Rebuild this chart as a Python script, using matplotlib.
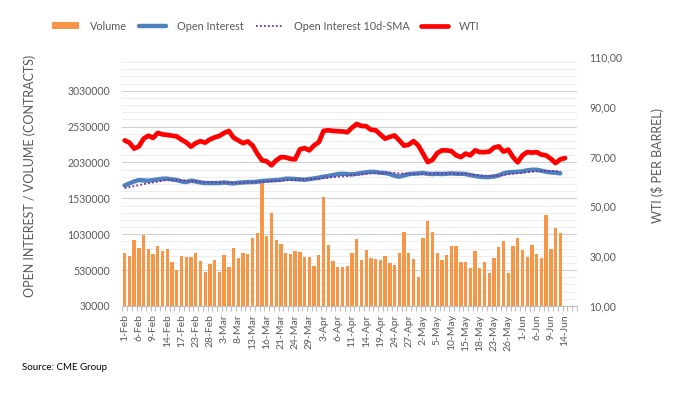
import matplotlib
matplotlib.use("Agg")
import matplotlib.pyplot as plt
import numpy as np
import pandas as pd
from matplotlib.ticker import FixedLocator, FuncFormatter

plt.rcParams['font.family'] = ['Lato', 'DejaVu Sans']

# Trading days (CME): 1-Feb-2023 .. 16-Jun-2023, excluding 20-Feb and 29-May
dates = pd.bdate_range('2023-02-01', '2023-06-16', freq='C',
                       holidays=['2023-02-20', '2023-05-29'])
cat_labels = [f"{d.day}-{d.strftime('%b')}" for d in dates]

# Volume (thousand contracts), 1-Feb .. 13-Jun
volume_k = [770, 724, 952, 840, 1021, 826, 756, 868, 798, 826, 644, 533, 724, 714, 714, 770,
            658, 505, 617, 672, 505, 742, 579, 840,
            705, 770, 756, 980, 1049, 1738, 1008, 1329, 952, 896, 770, 756, 798, 784, 714, 714,
            589, 742, 1552, 882, 658, 575, 575, 589,
            770, 966, 672, 812, 700, 686, 672, 728, 630, 603, 770, 1063, 770, 686, 435, 980,
            1217, 1063, 770, 672, 742, 868, 868, 644,
            644, 561, 798, 561, 644, 491, 700, 854, 938, 491, 868, 980, 812, 714, 882, 756,
            700, 1301, 826, 1119, 1049]

# Open interest (thousand contracts), 1-Feb .. 13-Jun
open_interest_k = [1710, 1738, 1766, 1785, 1780, 1776, 1785, 1794, 1804, 1804, 1794, 1785, 1766, 1757,
                   1776, 1766, 1752, 1743, 1743, 1743, 1743, 1752, 1743, 1738,
                   1748, 1752, 1757, 1757, 1762, 1771, 1776, 1780, 1785, 1790, 1804, 1804, 1799, 1794,
                   1790, 1799, 1808, 1818, 1832, 1841, 1855, 1869, 1873, 1869,
                   1864, 1873, 1883, 1892, 1901, 1897, 1887, 1883, 1869, 1845, 1832, 1850, 1869, 1873,
                   1878, 1883, 1873, 1869, 1873, 1869, 1873, 1878, 1873, 1873,
                   1869, 1855, 1841, 1832, 1827, 1827, 1836, 1850, 1878, 1892, 1897, 1901, 1906, 1920,
                   1929, 1929, 1915, 1901, 1892, 1887, 1878]

# Open interest 10-day SMA (thousand contracts), 1-Feb .. 13-Jun
oi_sma_k = [1673, 1687, 1701, 1715, 1729, 1741, 1752, 1764, 1776, 1785, 1785, 1785, 1780, 1776,
            1771, 1766, 1762, 1757, 1757, 1757, 1755, 1752, 1750, 1748,
            1745, 1748, 1752, 1755, 1759, 1764, 1769, 1771, 1773, 1776, 1780, 1783, 1787, 1790,
            1792, 1797, 1799, 1806, 1813, 1820, 1825, 1832, 1836, 1841,
            1855, 1859, 1864, 1871, 1878, 1880, 1883, 1885, 1887, 1885, 1878, 1876, 1873, 1871,
            1869, 1871, 1873, 1876, 1878, 1878, 1878, 1878, 1878,
            1871, 1869, 1862, 1855, 1848, 1841, 1841, 1843, 1848, 1855, 1864, 1873, 1880, 1887,
            1894, 1901, 1906, 1911, 1911, 1911, 1908, 1906]

# WTI ($ per barrel), 1-Feb .. 14-Jun
wti = [76.5, 75.6, 73.2, 74.1, 77.2, 78.4, 77.5, 79.5, 78.9, 78.7, 78.4, 78.1, 76.8, 75.7,
       74.0, 75.4, 76.2, 75.6, 76.9, 77.7, 78.3, 79.5, 80.3, 77.6,
       76.5, 75.4, 76.1, 74.5, 71.2, 68.5, 68.1, 66.5, 68.5, 69.8, 69.7, 69.1, 68.9, 72.9,
       73.4, 72.5, 74.5, 75.8, 80.3, 80.6, 80.3, 80.2, 80.1, 79.8,
       81.6, 83.1, 82.3, 82.2, 80.8, 80.6, 78.9, 77.2, 77.9, 78.5, 76.5, 74.4, 74.8, 76.2,
       74.5, 71.2, 67.8, 68.7, 71.4, 72.5, 72.5, 72.2, 70.5,
       69.8, 71.2, 70.5, 72.5, 71.8, 71.8, 72.0, 73.6, 74.1, 72.0, 72.8, 69.8, 67.7, 70.5,
       71.8, 71.6, 71.8, 70.8, 70.5, 69.1, 67.4, 68.9, 69.4]

# axis ticks
left_ticks = [30000, 530000, 1030000, 1530000, 2030000, 2530000, 3030000]
right_ticks = [10, 30, 50, 70, 90, 110]

vol = np.array(volume_k) * 1000
oi = np.array(open_interest_k) * 1000
sma = np.array(oi_sma_k) * 1000
wti = np.array(wti)

ORANGE = '#F79646'
BLUE = '#4F81BD'
PURPLE = '#7030A0'
RED = '#FF0000'
GRAY = '#595959'

fig = plt.figure(figsize=(6.89, 3.96), dpi=100)
ax = fig.add_axes([122.3 / 689, 1 - 306 / 396, 454.6 / 689, 249 / 396])
ax2 = ax.twinx()

n = len(cat_labels)

b = ax.bar(np.arange(len(vol)), vol, width=0.7, color=ORANGE, zorder=2, label='Volume')
l_oi, = ax.plot(np.arange(len(oi)), oi, color=BLUE, lw=3.2, solid_capstyle='round', zorder=3,
                label='Open Interest')
l_sma, = ax.plot(np.arange(len(sma)), sma, color=PURPLE, lw=1.3, ls=(0, (1, 1.2)), zorder=4,
                 label='Open Interest 10d-SMA')
l_wti, = ax2.plot(np.arange(len(wti)), wti, color=RED, lw=3.4, solid_capstyle='round',
                  label='WTI')

ax.set_xlim(-0.5, n - 0.5)
ax.set_ylim(30000, 3500000)
ax.yaxis.set_major_locator(FixedLocator(left_ticks))
ax.yaxis.set_minor_locator(FixedLocator(np.arange(130000, 3500000, 100000)))
ax.yaxis.set_major_formatter(FuncFormatter(lambda v, p: f"{int(round(v))}"))
ax.grid(axis='y', which='major', color='#D0D0D0', lw=0.8, zorder=0)
ax.grid(axis='y', which='minor', color='#EDEDED', lw=0.7, zorder=0)
ax.set_axisbelow(True)

ax2.set_ylim(9.999, 110.001)
ax2.yaxis.set_major_locator(FixedLocator(right_ticks))
ax2.yaxis.set_major_formatter(FuncFormatter(lambda v, p: f"{v:.2f}".replace('.', ',')))

# x ticks: labels every 3 trading days, tick marks between categories
ax.set_xticks(np.arange(0, n, 3))
ax.set_xticklabels([cat_labels[i] for i in range(0, n, 3)], rotation=90, fontsize=7.5,
                   color=GRAY)
ax.set_xticks(np.arange(-0.5, n, 1), minor=True)
ax.tick_params(axis='x', which='major', length=0, pad=6)
ax.tick_params(axis='x', which='minor', length=3.5, color='#BFBFBF', width=0.8)

ax.tick_params(axis='y', which='both', length=0, labelsize=7.6, labelcolor=GRAY, pad=9)
ax2.tick_params(axis='y', length=0, labelsize=7.6, labelcolor=GRAY, pad=9)

for a in (ax, ax2):
    for s in ('top', 'left', 'right'):
        a.spines[s].set_visible(False)
ax.spines['bottom'].set_color('#BFBFBF')
ax2.spines['bottom'].set_visible(False)

fig.text(30 / 689, 1 - 176 / 396, 'OPEN INTEREST / VOLUME (CONTRACTS)', rotation=90,
         ha='center', va='center', fontsize=9, color=GRAY)
fig.text(658 / 689, 1 - 165 / 396, 'WTI ($ PER BARREL)', rotation=90,
         ha='center', va='center', fontsize=9, color=GRAY)

fig.legend([b, l_oi, l_sma, l_wti],
           ['Volume', 'Open Interest', 'Open Interest 10d-SMA', 'WTI'],
           loc='center', bbox_to_anchor=(266 / 689, 1 - 26 / 396), ncol=4, frameon=False,
           fontsize=7.8, handlelength=2.5, handletextpad=1.0, columnspacing=1.1,
           labelcolor=GRAY, handleheight=0.6)

fig.text(22 / 689, 1 - 367 / 396, 'Source: CME Group', fontsize=7, color='black',
         ha='left', va='center')

fig.savefig('out.png', dpi=100)
